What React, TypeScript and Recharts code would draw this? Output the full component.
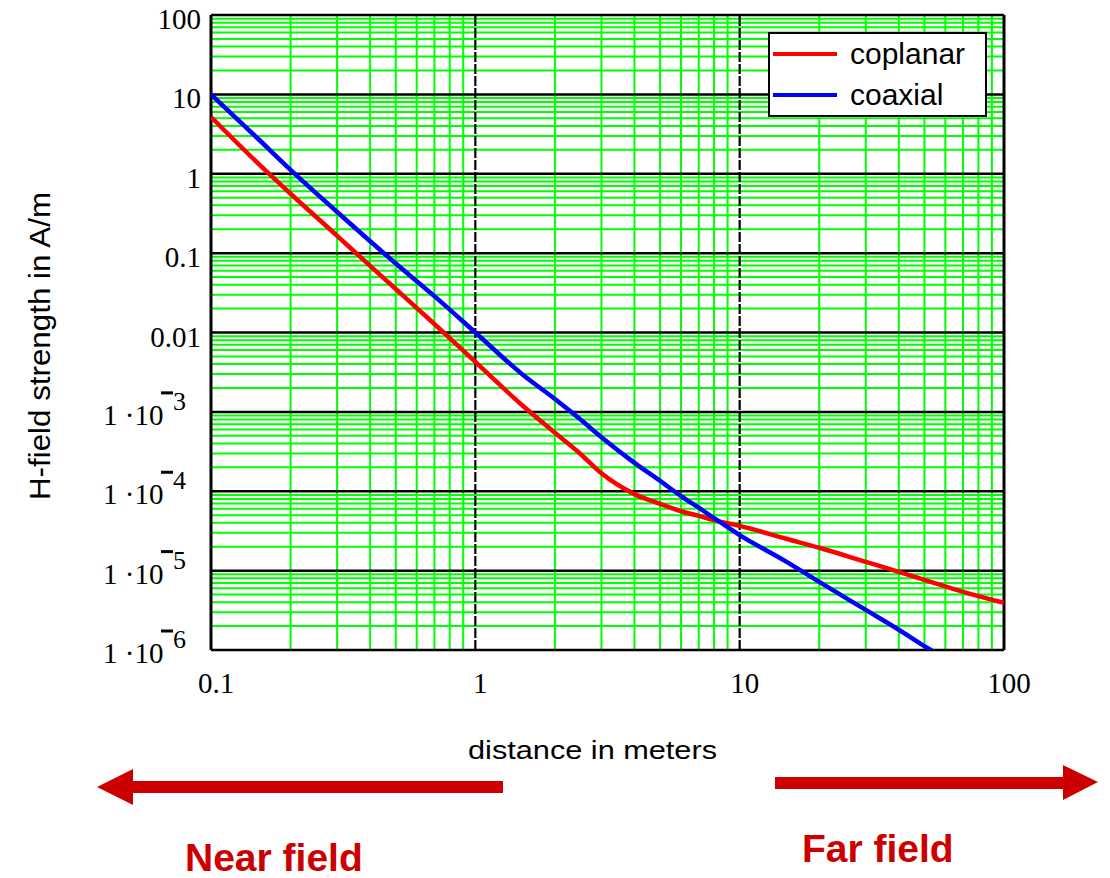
import React from "react";
import { LineChart, Line, XAxis, YAxis, ReferenceLine } from "recharts";

// distance in metres (x) and H-field in A/m for each loop orientation
const distances = [0.1, 0.15, 0.2, 0.3, 0.4, 0.5, 0.7, 1, 1.5, 2, 2.5, 3, 4, 5, 6, 7, 8, 10, 15, 20, 30, 40, 50, 70, 100];
const coplanar = [
  5.2, 1.37, 0.56, 0.165, 0.069, 0.0353, 0.0128, 0.00426, 0.00122, 0.000545, 0.000295, 0.000168,
  0.000092, 0.0000693, 0.000056, 0.000049, 0.0000432, 0.0000366, 0.0000252, 0.0000194, 0.0000129,
  0.00000966, 0.00000766, 0.0000054, 0.00000393,
];
const coaxial = [
  10, 2.8, 1.12, 0.33, 0.141, 0.074, 0.0287, 0.01, 0.003, 0.00145, 0.0008, 0.00048,
  0.000228, 0.000135, 0.000087, 0.000062, 0.000046, 0.000028, 0.000013, 0.0000072, 0.0000032,
  0.0000018, 0.00000112, 0.00000059, 0.00000029,
];

const seriesNames = ["coplanar", "coaxial"];
const seriesColors = ["#ff0000", "#0000ff"];

const xTicks = [0.1, 1, 10, 100];
const yTicks = [1e-6, 1e-5, 1e-4, 1e-3, 0.01, 0.1, 1, 10, 100];
const minorSteps = [2, 3, 4, 5, 6, 7, 8, 9];

const data = distances.map((x, i) => ({ x, coplanar: coplanar[i], coaxial: coaxial[i] }));

const xMinor = xTicks.slice(0, -1).flatMap((d) => minorSteps.map((k) => d * k));
const yMinor = yTicks.slice(0, -1).flatMap((d) => minorSteps.map((k) => d * k));

const SERIF = "'Liberation Serif', 'Times New Roman', serif";
const SANS = "'Liberation Sans', Arial, sans-serif";
const DARK_RED = "#cc0000";

const XTick = (props: any) => {
  const { x, y, payload } = props;
  return (
    <text x={x + 5} y={y + 41} textAnchor="middle" fontFamily={SERIF} fontSize={29} fill="#000">
      {String(payload.value)}
    </text>
  );
};

const YTick = (props: any) => {
  const { x, y, payload } = props;
  const v = payload.value as number;
  if (v >= 0.01) {
    return (
      <text x={x - 8} y={y + 14} textAnchor="end" fontFamily={SERIF} fontSize={29} fill="#000">
        {v >= 1 ? String(Math.round(v)) : String(v)}
      </text>
    );
  }
  const exp = Math.round(-Math.log10(v));
  const left = x - 106;
  return (
    <g>
      <text x={left} y={y + 13} fontFamily={SERIF} fontSize={29} fill="#000">
        1 ·10
      </text>
      <line x1={left + 58} x2={left + 70} y1={y - 19} y2={y - 19} stroke="#000" strokeWidth={3} />
      <text x={left + 70} y={y - 2} fontFamily={SERIF} fontSize={26} fill="#000">
        {exp}
      </text>
    </g>
  );
};

export default function App() {
  return (
    <div style={{ position: "absolute", left: 0, top: 0, width: 1110, height: 878, background: "#fff" }}>
      <LineChart width={1110} height={878} data={data} margin={{ top: 15, right: 106, left: 0, bottom: 0 }}>
        <XAxis
          dataKey="x"
          type="number"
          scale="log"
          domain={[0.1, 100]}
          ticks={xTicks}
          allowDataOverflow
          height={228}
          axisLine={false}
          tickLine={false}
          tickSize={0}
          tick={<XTick />}
        />
        <YAxis
          type="number"
          scale="log"
          domain={[1e-6, 100]}
          ticks={yTicks}
          allowDataOverflow
          width={211}
          axisLine={false}
          tickLine={false}
          tickSize={0}
          tick={<YTick />}
        />
        {yMinor.map((v) => (
          <ReferenceLine key={`ym${v}`} y={v} stroke="#00ff00" strokeWidth={2} />
        ))}
        {xMinor.map((v) => (
          <ReferenceLine key={`xm${v}`} x={v} stroke="#00ff00" strokeWidth={2} />
        ))}
        {yTicks.map((v) => (
          <ReferenceLine key={`yM${v}`} y={v} stroke="#000" strokeWidth={2.5} />
        ))}
        {xTicks.slice(1, -1).map((v) => (
          <ReferenceLine key={`xM${v}`} x={v} stroke="#000" strokeWidth={2.2} strokeDasharray="10 2" />
        ))}
        <ReferenceLine x={0.1} stroke="#000" strokeWidth={3} />
        <ReferenceLine x={100} stroke="#000" strokeWidth={3} />
        {seriesNames.map((name, i) => (
          <Line
            key={name}
            dataKey={name}
            name={name}
            stroke={seriesColors[i]}
            strokeWidth={4.5}
            type="monotone"
            dot={false}
            isAnimationActive={false}
          />
        ))}
      </LineChart>

      {/* legend box */}
      <div
        style={{
          position: "absolute",
          left: 768,
          top: 32,
          width: 215,
          height: 81,
          border: "2px solid #000",
          background: "#fff",
          fontFamily: SANS,
          fontSize: 30,
        }}
      >
        {seriesNames.map((name, i) => (
          <div key={name} style={{ position: "absolute", left: 0, top: i === 0 ? 2 : 43, height: 36, display: "flex", alignItems: "center" }}>
            <div style={{ marginLeft: 3, width: 64, height: 4, background: seriesColors[i] }} />
            <span style={{ marginLeft: 13, lineHeight: "36px" }}>{name}</span>
          </div>
        ))}
      </div>

      {/* axis titles, arrows and zone captions */}
      <svg width={1110} height={878} style={{ position: "absolute", left: 0, top: 0, pointerEvents: "none" }}>
        <text
          x={50}
          y={346}
          textAnchor="middle"
          transform="rotate(-90, 50, 346)"
          fontFamily={SANS}
          fontSize={29}
          textLength={308}
          lengthAdjust="spacingAndGlyphs"
        >
          H-field strength in A/m
        </text>
        <text x={468} y={759} fontFamily={SANS} fontSize={26} textLength={249} lengthAdjust="spacingAndGlyphs">
          distance in meters
        </text>
        <polygon points="97,787 133,769 133,781 503,781 503,793 133,793 133,805" fill={DARK_RED} />
        <polygon points="1098,782 1063,765 1063,777 775,777 775,789 1063,789 1063,800" fill={DARK_RED} />
        <text x={185} y={871} fontFamily={SANS} fontWeight="bold" fontSize={39} fill={DARK_RED}>
          Near field
        </text>
        <text x={802} y={862} fontFamily={SANS} fontWeight="bold" fontSize={39} fill={DARK_RED}>
          Far field
        </text>
      </svg>
    </div>
  );
}
